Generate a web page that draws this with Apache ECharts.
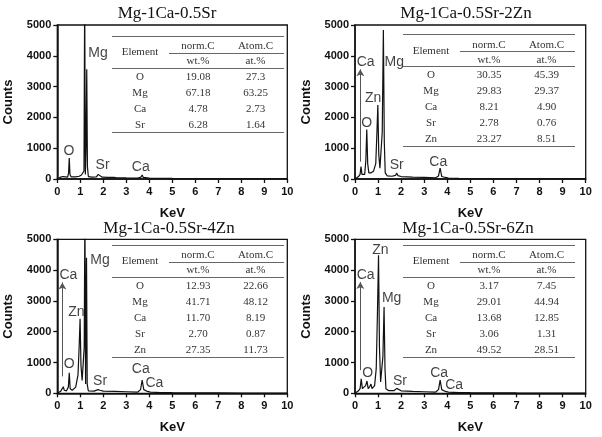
<!DOCTYPE html>
<html><head><meta charset="utf-8">
<script src="https://cdn.jsdelivr.net/npm/echarts@6/dist/echarts.min.js"></script>
<style>html,body{margin:0;padding:0;background:#fff}#c{width:602px;height:437px}</style>
</head><body><div id="c"></div>
<script>
// ---------- data ----------
const panelTitles = ['Mg-1Ca-0.5Sr', 'Mg-1Ca-0.5Sr-2Zn', 'Mg-1Ca-0.5Sr-4Zn', 'Mg-1Ca-0.5Sr-6Zn'];
const xTickValues = [0,1,2,3,4,5,6,7,8,9,10];
const yTickValues = [0,1000,2000,3000,4000,5000];

// [keV, counts]
const spectrum1 = [[0,0],[0.05,40],[0.15,60],[0.25,80],[0.28,110],[0.32,70],[0.45,60],[0.49,200],[0.52,680],[0.55,150],[0.6,70],[0.8,70],[0.95,90],[1.05,130],[1.12,190],[1.16,260],[1.19,6000],[1.22,150],[1.25,1000],[1.28,3560],[1.31,400],[1.35,80],[1.5,60],[1.7,70],[1.78,150],[1.82,200],[1.86,130],[1.95,60],[2.2,50],[2.45,50],[2.5,70],[2.55,45],[3.0,35],[3.5,30],[3.64,60],[3.69,130],[3.74,50],[4.0,30],[4.5,25],[5,20],[6,15],[7,12],[8,10],[9,8],[10,8]];
const spectrum2 = [[0,0],[0.05,50],[0.15,80],[0.22,150],[0.26,400],[0.3,150],[0.36,100],[0.42,150],[0.47,600],[0.51,1610],[0.55,500],[0.6,200],[0.7,200],[0.8,250],[0.9,500],[0.95,1500],[0.99,2400],[1.03,800],[1.08,350],[1.13,380],[1.18,1500],[1.23,4840],[1.27,1200],[1.31,200],[1.4,100],[1.6,90],[1.76,120],[1.81,190],[1.86,110],[2.0,80],[2.5,60],[3.0,50],[3.5,40],[3.62,100],[3.69,350],[3.76,80],[3.92,50],[3.98,90],[4.05,30],[4.5,20],[5,15],[6,12],[7,10],[8,8],[9,7],[10,6]];
const spectrum3 = [[0,0],[0.05,50],[0.15,70],[0.22,120],[0.26,215],[0.3,100],[0.4,80],[0.48,200],[0.52,670],[0.56,150],[0.65,100],[0.8,200],[0.9,600],[0.95,1500],[0.99,2420],[1.03,900],[1.08,420],[1.13,450],[1.17,1500],[1.20,6000],[1.23,300],[1.27,4400],[1.30,300],[1.35,80],[1.6,70],[1.77,120],[1.81,170],[1.86,100],[2.0,70],[2.5,60],[3.0,50],[3.5,40],[3.62,120],[3.69,430],[3.76,120],[3.92,60],[3.98,100],[4.05,40],[4.5,25],[5,20],[6,15],[7,12],[8,10],[9,8],[10,8]];
const spectrum4 = [[0,0],[0.05,50],[0.15,80],[0.22,150],[0.27,470],[0.32,150],[0.4,200],[0.46,250],[0.52,400],[0.57,150],[0.64,220],[0.69,300],[0.74,150],[0.85,250],[0.92,800],[0.97,2500],[1.02,4480],[1.06,1500],[1.11,370],[1.16,400],[1.21,1200],[1.26,2800],[1.30,800],[1.34,150],[1.45,90],[1.7,90],[1.77,120],[1.81,160],[1.86,100],[2.0,80],[2.5,60],[3.0,50],[3.5,40],[3.62,120],[3.69,430],[3.76,120],[3.92,60],[3.98,100],[4.05,40],[4.5,25],[5,20],[6,15],[7,12],[8,10],[9,8],[10,8]];

// peak labels [keV, counts, text]
const peakLabels1 = [[1.77,4090,'Mg'],[0.51,910,'O'],[1.97,455,'Sr'],[3.63,390,'Ca']];
const peakLabels2 = [[0.46,3800,'Ca'],[1.70,3800,'Mg'],[0.79,2630,'Zn'],[0.51,1820,'O'],[1.81,455,'Sr'],[3.61,550,'Ca']];
const peakLabels3 = [[0.48,3840,'Ca'],[1.86,4330,'Mg'],[0.83,2650,'Zn'],[0.52,950,'O'],[1.86,410,'Sr'],[3.63,790,'Ca'],[4.22,335,'Ca']];
const peakLabels4 = [[0.46,3840,'Ca'],[1.10,4650,'Zn'],[1.59,3095,'Mg'],[0.55,670,'O'],[1.95,410,'Sr'],[3.65,660,'Ca'],[4.30,270,'Ca']];

// arrows [keV, fromCounts, toCounts]
const arrows = [null, [0.23,560,3560], [0.22,550,3600], [0.23,750,3610]];

// tables
const tableHeader = ['Element','norm.C','Atom.C'];
const tableUnits = ['wt.%','at.%'];
const table1 = [['O','19.08','27.3'],['Mg','67.18','63.25'],['Ca','4.78','2.73'],['Sr','6.28','1.64']];
const table2 = [['O','30.35','45.39'],['Mg','29.83','29.37'],['Ca','8.21','4.90'],['Sr','2.78','0.76'],['Zn','23.27','8.51']];
const table3 = [['O','12.93','22.66'],['Mg','41.71','48.12'],['Ca','11.70','8.19'],['Sr','2.70','0.87'],['Zn','27.35','11.73']];
const table4 = [['O','3.17','7.45'],['Mg','29.01','44.94'],['Ca','13.68','12.85'],['Sr','3.06','1.31'],['Zn','49.52','28.51']];

// ---------- layout ----------
const SANS = '"Liberation Sans", Arial, sans-serif';
const SERIF = '"Liberation Serif", "Times New Roman", serif';
const grids = [
  {left:57.3, top:25, width:230, height:154},
  {left:355, top:25, width:230.7, height:154},
  {left:57.3, top:239.3, width:230, height:154},
  {left:355, top:239.3, width:230.7, height:154}
];
const tablePos = [[54.7,11],[48,9.3],[54.7,5.7],[48,5.7]];
const titleCenters = [[167,5],[466,5],[169,220],[468,220]];
const spectra = [spectrum1, spectrum2, spectrum3, spectrum4];
const peakLabels = [peakLabels1, peakLabels2, peakLabels3, peakLabels4];
const tables = [table1, table2, table3, table4];

function tableGraphics(g, L, T, rows) {
  const x0 = g.left + L, y0 = g.top + T, W = 172;
  const colC = [28, 86, 143.5];
  const els = [];
  const line = (xa, xb, y, w) => els.push({type:'line', silent:true, shape:{x1:xa, y1:Math.round(y)+0.5, x2:xb, y2:Math.round(y)+0.5}, style:{stroke:'#666', lineWidth:w || 1}});
  const text = (t, x, y) => els.push({type:'text', silent:true, x:x, y:y, style:{text:t, fill:'#333', font:'11px ' + SERIF, textAlign:'center', textVerticalAlign:'middle'}});
  line(x0, x0 + W, y0);
  line(x0 + 57, x0 + W, y0 + 16.5);
  line(x0, x0 + W, y0 + 32);
  line(x0, x0 + W, y0 + 32 + 16 * rows.length);
  text(tableHeader[0], x0 + colC[0], y0 + 16.5);
  text(tableHeader[1], x0 + colC[1], y0 + 10.5);
  text(tableHeader[2], x0 + colC[2], y0 + 10.5);
  text(tableUnits[0], x0 + colC[1], y0 + 25.5);
  text(tableUnits[1], x0 + colC[2], y0 + 25.5);
  rows.forEach((r, i) => r.forEach((c, j) => text(c, x0 + colC[j], y0 + 41 + 16 * i)));
  return els;
}

const option = {
  animation: false,
  backgroundColor: '#fff',
  title: panelTitles.map((t, i) => ({
    text: t, left: titleCenters[i][0], top: titleCenters[i][1], textAlign: 'center', padding: 0,
    textStyle: {fontFamily: SERIF, fontSize: 17, fontWeight: 'normal', color: '#111'}
  })),
  grid: grids.map(g => Object.assign({show:true, borderColor:'#111', borderWidth:1.3, backgroundColor:'transparent'}, g)),
  xAxis: grids.map((g, i) => ({
    type:'value', gridIndex:i, min:xTickValues[0], max:xTickValues[xTickValues.length-1], interval:1,
    name:'KeV', nameLocation:'middle', nameGap:28,
    nameTextStyle:{fontFamily:SANS, fontSize:13, fontWeight:'bold', color:'#111'},
    axisLine:{show:true, onZero:false, lineStyle:{color:'#111', width:1.5}},
    axisTick:{show:true, inside:false, length:4, lineStyle:{color:'#111', width:1.3}},
    axisLabel:{margin:7, fontFamily:SANS, fontSize:11, fontWeight:'bold', color:'#111', formatter:v => String(v)},
    splitLine:{show:false}
  })),
  yAxis: grids.map((g, i) => ({
    type:'value', gridIndex:i, min:yTickValues[0], max:yTickValues[yTickValues.length-1], interval:1000,
    name:'Counts', nameLocation:'middle', nameGap:42, nameRotate:90,
    nameTextStyle:{fontFamily:SANS, fontSize:13, fontWeight:'bold', color:'#111'},
    axisLine:{show:true, onZero:false, lineStyle:{color:'#111', width:1.5}},
    axisTick:{show:true, inside:false, length:4, lineStyle:{color:'#111', width:1.3}},
    axisLabel:{margin:6, fontFamily:SANS, fontSize:11, fontWeight:'bold', color:'#111', formatter:v => String(v)},
    splitLine:{show:false}
  })),
  series: [].concat(
    spectra.map((d, i) => {
      const s = {
        type:'line', xAxisIndex:i, yAxisIndex:i, data:d, symbol:'none', clip:true,
        lineStyle:{color:'#111', width:1.2}, z:3
      };
      if (arrows[i]) {
        const a = arrows[i];
        s.markLine = {
          silent:true, symbol:['none','arrow'], symbolSize:[6,7],
          label:{show:false},
          lineStyle:{color:'#555', width:1, type:'solid'},
          data:[[{coord:[a[0], a[1]]}, {coord:[a[0], a[2]]}]]
        };
      }
      return s;
    }),
    peakLabels.map((d, i) => ({
      type:'scatter', xAxisIndex:i, yAxisIndex:i, data:d, symbolSize:1,
      itemStyle:{color:'rgba(0,0,0,0)'}, silent:true, z:5,
      label:{show:true, position:'inside', formatter:p => p.data[2],
        fontFamily:SANS, fontSize:14, color:'#111'}
    }))
  ),
  graphic: [].concat(...tables.map((t, i) => tableGraphics(grids[i], tablePos[i][0], tablePos[i][1], t)))
};

const chart = echarts.init(document.getElementById('c'), null, {renderer:'canvas'});
chart.setOption(option);
</script>
</body></html>
